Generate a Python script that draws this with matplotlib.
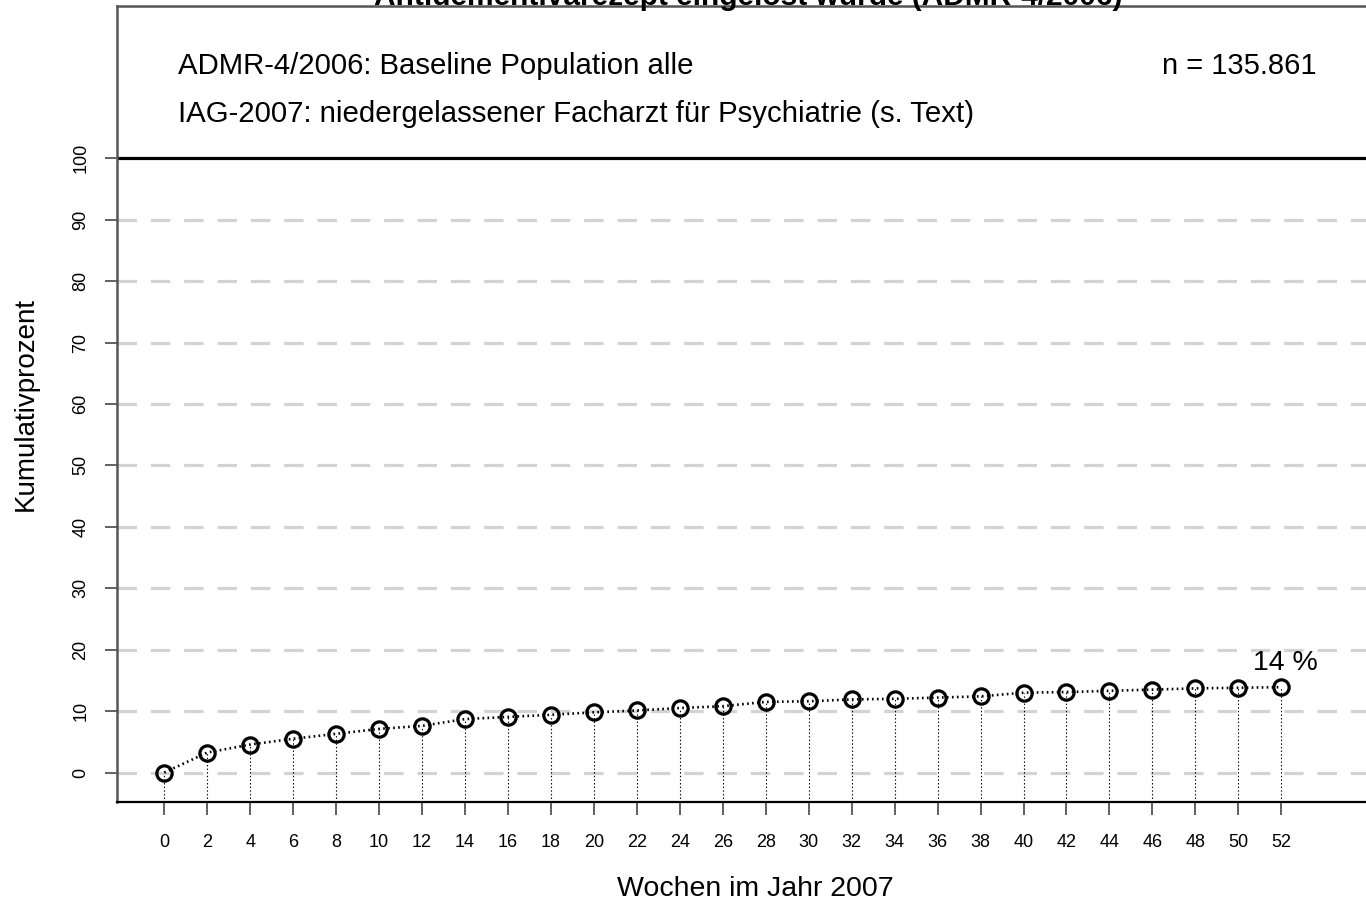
import numpy as np
import matplotlib
matplotlib.use("Agg")
from matplotlib import pyplot as plt

plt.rcParams['font.family'] = ['Liberation Sans', 'DejaVu Sans']
plt.rcParams['lines.scale_dashes'] = False

# weeks and cumulative percent
weeks = np.arange(0, 53, 2)
kumulativ = [0.0, 3.25, 4.55, 5.5, 6.3, 7.1, 7.6, 8.7, 9.05, 9.4, 9.8, 10.1, 10.5,
             10.8, 11.5, 11.6, 11.9, 12.0, 12.2, 12.4, 13.0, 13.1, 13.3, 13.5, 13.7,
             13.8, 13.9]
yticks = np.arange(0, 101, 10)
title = "Antidementivarezept eingelöst wurde (ADMR-4/2006)"
info1 = "ADMR-4/2006: Baseline Population alle"
info2 = "IAG-2007: niedergelassener Facharzt für Psychiatrie (s. Text)"
n_text = "n = 135.861"
end_label = "14 %"

W, H = 1366, 900
fig = plt.figure(figsize=(W / 100, H / 100), dpi=100)
# axes run off the right side of the figure, like the reference
left, right, top, bottom = 117, 1393, 6, 802
ax = fig.add_axes([left / W, (H - bottom) / H, (right - left) / W, (bottom - top) / H])
ax.set_xlim(-2.2, 57.2)
ax.set_ylim(-4.8, 124.8)

# grid lines
for v in yticks[:-1]:
    ax.axhline(v, color='#d3d3d3', lw=2.3, dashes=(14, 10), zorder=1)
ax.axhline(100, color='black', lw=2.3, zorder=2)

# drop lines to the bottom
ax.vlines(weeks, -4.8, kumulativ, colors='black', linestyles=(0, (1, 1.6)), lw=0.8, zorder=3)
ax.plot(weeks, kumulativ, color='black', ls=(0, (1.2, 2.4)), lw=1.9, zorder=4)
ax.plot(weeks, kumulativ, 'o', ms=11, mfc='none', mec='black', mew=2.3, zorder=5)

ax.text(weeks[-1] + 0.2, kumulativ[-1] + 4.0, end_label, ha='center', va='center', fontsize=20.5)

ax.text(0.65, 113.8, info1, ha='left', va='baseline', fontsize=21.2)
ax.text(0.65, 105.85, info2, ha='left', va='baseline', fontsize=21.2)
ax.text(53.65, 113.8, n_text, ha='right', va='baseline', fontsize=21)

ax.set_xticks(weeks)
ax.set_xticklabels([str(w) for w in weeks], fontsize=13)
ax.set_yticks(yticks)
ax.set_yticklabels([str(v) for v in yticks], fontsize=13, rotation=90, va='center')
ax.tick_params(axis='x', length=9, width=1.3, color='#555555', pad=14)
ax.tick_params(axis='y', length=9, width=1.3, color='#555555', pad=11)

ax.set_xlabel("Wochen im Jahr 2007", fontsize=20.5, labelpad=18)
ax.set_ylabel("Kumulativprozent", fontsize=20, labelpad=24)

for s in ['left', 'top']:
    ax.spines[s].set_color('#555555')
    ax.spines[s].set_linewidth(1.8)
ax.spines['bottom'].set_color('black')
ax.spines['bottom'].set_linewidth(1.6)
ax.spines['right'].set_visible(False)

# title sits above the axes and is mostly cut off at the top
fig.text((left + right) / 2 / W - 7 / W, 1 - 5 / H, title, ha='center', va='baseline',
         fontsize=21.5, fontweight='bold')

fig.savefig("out.png", dpi=100)
